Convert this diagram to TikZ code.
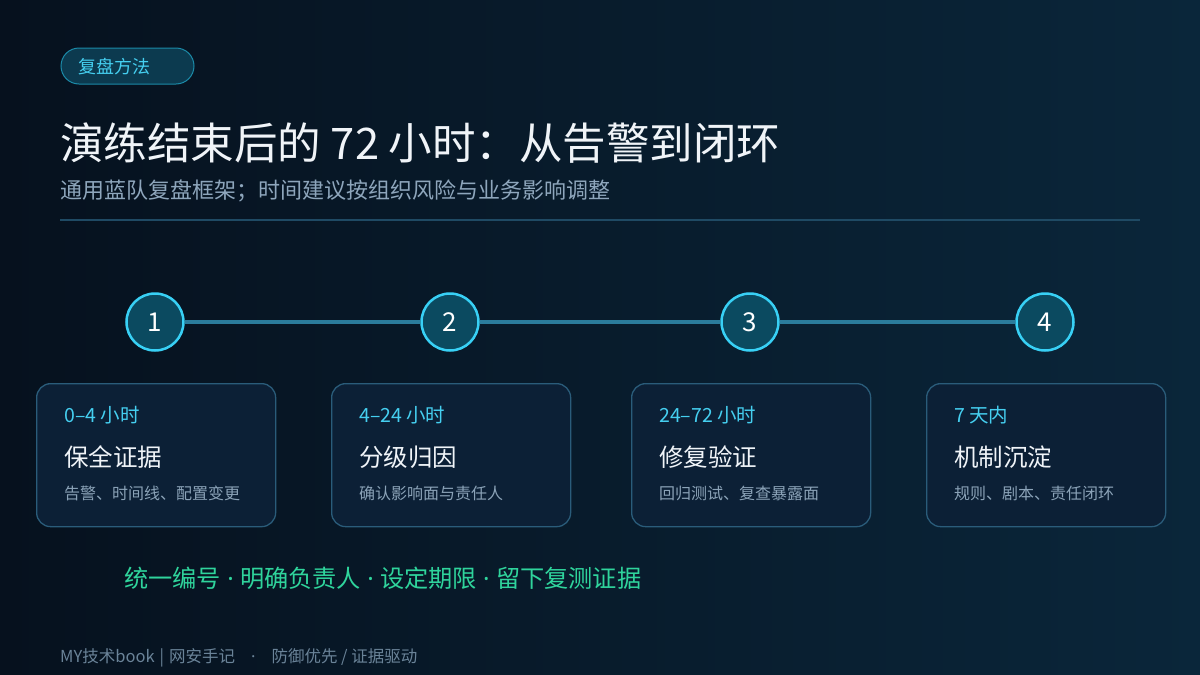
\documentclass[tikz,border=0pt]{standalone}
\usepackage{fontspec}
\setmainfont{Noto Sans CJK SC}
\newfontfamily\latinf{Noto Sans}
\newcommand{\sepdot}{{\latinf\ ·\ }}
\definecolor{bgL}{HTML}{06111E}
\definecolor{bgR}{HTML}{0A263A}
\definecolor{badgeFill}{HTML}{0C3A4F}
\definecolor{badgeLine}{HTML}{1B8AA8}
\definecolor{cyanTxt}{HTML}{45CFF0}
\definecolor{titleTxt}{HTML}{F0F4F8}
\definecolor{subTxt}{HTML}{8EA6BC}
\definecolor{divider}{HTML}{1F4A64}
\definecolor{circFill}{HTML}{0B4A60}
\definecolor{circLine}{HTML}{38D0F5}
\definecolor{tlLine}{HTML}{2B7C9C}
\definecolor{cardFill}{HTML}{0C2036}
\definecolor{cardLine}{HTML}{2A5C7A}
\definecolor{descTxt}{HTML}{8BA3B8}
\definecolor{greenTxt}{HTML}{2FD49C}
\definecolor{footTxt}{HTML}{6A8398}
\tikzset{
  badge/.style={draw=badgeLine, line width=1pt, fill=badgeFill, rounded corners=18pt, minimum width=133pt, minimum height=36pt, inner sep=0pt},
  badgetext/.style={anchor=west, inner sep=0pt, text=cyanTxt, font=\fontsize{18}{21}\selectfont},
  titletext/.style={anchor=west, inner sep=0pt, text=titleTxt, font=\fontsize{43.5}{50}\selectfont},
  subtext/.style={anchor=west, inner sep=0pt, text=subTxt, font=\fontsize{22}{26}\selectfont},
  stepcirc/.style={circle, draw=circLine, line width=2.5pt, fill=circFill, minimum size=57pt, inner sep=0pt, text=white, font=\fontsize{26}{30}\selectfont},
  tl/.style={draw=tlLine, line width=4pt},
  card/.style={draw=cardLine, line width=1.3pt, fill=cardFill, rounded corners=14pt, minimum width=239pt, minimum height=143pt, inner sep=0pt},
  timetext/.style={anchor=west, inner sep=0pt, text=cyanTxt, font=\fontsize{19.5}{23}\selectfont},
  cardtitle/.style={anchor=west, inner sep=0pt, text=titleTxt, font=\fontsize{24.5}{28}\selectfont},
  desctext/.style={anchor=west, inner sep=0pt, text=descTxt, font=\fontsize{16}{19}\selectfont},
  greentext/.style={anchor=west, inner sep=0pt, text=greenTxt, font=\fontsize{24.2}{28}\selectfont},
  foottext/.style={anchor=west, inner sep=0pt, text=footTxt, font=\fontsize{16.5}{19}\selectfont},
}
\begin{document}
\begin{tikzpicture}[x=1pt, y=-1pt]
\useasboundingbox (0,0) rectangle (1200,675);
\shade[left color=bgL, right color=bgR] (0,0) rectangle (1200,675);
% badge
\node[badge] (badge) at (127.5,66) {};
\node[badgetext] (badget) at (78,67) {复盘方法};
% title
\node[titletext] (title) at (60,143) {演练结束后的 72 小时：从告警到闭环};
\node[subtext] (subtitle) at (60,191) {通用蓝队复盘框架；时间建议按组织风险与业务影响调整};
\coordinate (divL) at (60,220);
\coordinate (divR) at (1140,220);
\draw[draw=divider, line width=2pt] (divL) -- (divR);
% timeline
\node[stepcirc] (c1) at (155,322) {1};
\node[stepcirc] (c2) at (450,322) {2};
\node[stepcirc] (c3) at (750,322) {3};
\node[stepcirc] (c4) at (1045,322) {4};
\draw[tl] (c1) -- (c2);
\draw[tl] (c2) -- (c3);
\draw[tl] (c3) -- (c4);
% cards
\foreach \n/\x/\t/\h/\d in {
  1/36/{0–4 小时}/保全证据/告警、时间线、配置变更,
  2/331/{4–24 小时}/分级归因/确认影响面与责任人,
  3/631/{24–72 小时}/修复验证/回归测试、复查暴露面,
  4/926/7 天内/机制沉淀/规则、剧本、责任闭环}{
  \node[card, anchor=north west] (card\n) at (\x,383) {};
  \node[timetext] (time\n) at (\x+28,415) {\t};
  \node[cardtitle] (head\n) at (\x+28,457) {\h};
  \node[desctext] (desc\n) at (\x+28,493) {\d};
}
% bottom
\node[greentext] (principles) at (124,578) {统一编号\sepdot 明确负责人\sepdot 设定期限\sepdot 留下复测证据};
\node[foottext] (footer) at (60,658) {MY技术book\hspace{5pt}|\hspace{5pt}网安手记\hspace{16pt}{\latinf ·}\hspace{16pt}防御优先 / 证据驱动};
\end{tikzpicture}
\end{document}
